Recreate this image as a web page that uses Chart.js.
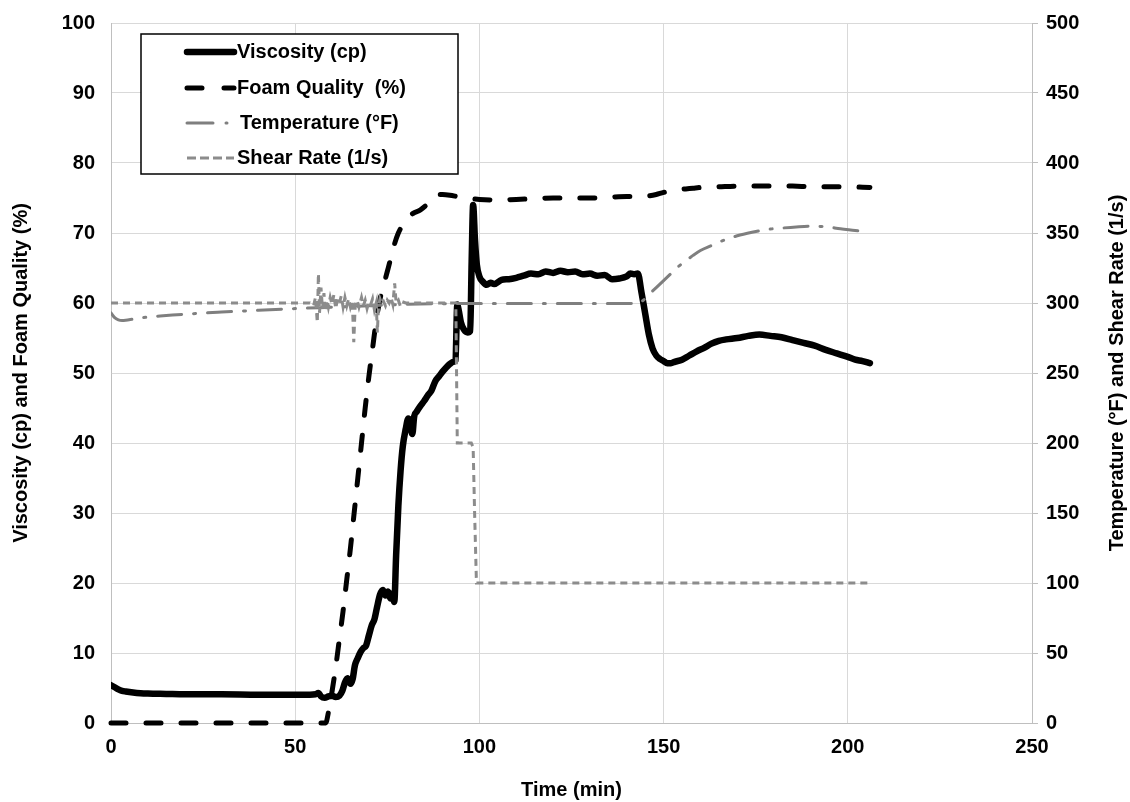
<!DOCTYPE html>
<html>
<head>
<meta charset="utf-8">
<script src="https://cdn.jsdelivr.net/npm/chart.js@4.4.1/dist/chart.umd.min.js"></script>
<style>
  html, body { margin: 0; padding: 0; background: #ffffff; }
  canvas { display: block; }
</style>
</head>
<body>
<canvas id="chart" width="1130" height="802"></canvas>
<script>
// Time axis (min) and axis ticks
const timeTicks = [0, 50, 100, 150, 200, 250];
const leftTicks = [0, 10, 20, 30, 40, 50, 60, 70, 80, 90, 100];
const rightTicks = [0, 50, 100, 150, 200, 250, 300, 350, 400, 450, 500];

// Axis titles
const leftTitle = 'Viscosity (cp) and Foam Quality (%)';
const rightTitle = 'Temperature (°F) and Shear Rate (1/s)';

// Viscosity (cp)
const viscTime = [0,1,2,3,4,6,8,10,15,20,
  30,40,50,54,55.5,56.3,57,58,59,60,
  61,62,62.8,63.5,64.2,65,65.6,66.2,67,67.8,
  68.5,69.2,70,70.8,71.5,72.2,73,73.8,74.5,75.2,
  75.8,76.4,76.9,77.4,78,78.6,79.2,80,80.7,81.3,
  81.8,82.3,83,84,85,86,87,88,89,90,
  91,92,93,93.5,94,94.3,95,95.8,96.8,97.5,
  97.9,98.3,98.8,99.3,100,101,102,103,104,106,
  108,110,112,114,116,118,120,122,124,126,
  128,130,132,134,136,138,140,141,142,143,
  144,145,146,147,148,149,150,151,152,153,
  155,157,159,161,163,165,167,170,173,176,
  179,182,185,188,191,194,197,200,202,204,
  206];
const viscosity = [5.4,5.1,4.8,4.6,4.5,4.35,4.25,4.2,4.15,4.1,
  4.1,4.05,4.05,4.05,4.1,4.3,3.8,3.6,3.8,3.9,
  3.7,3.9,4.6,5.8,6.4,5.6,6.3,8.2,9.3,10.2,
  10.7,11.0,12.5,14.0,14.8,16.5,18.3,19.0,18.2,18.8,
  17.8,18.5,17.3,24,31,36,39.5,42,43.5,42.3,
  41.3,43.8,44.5,45.3,46,46.8,47.5,48.8,49.5,50.2,
  50.8,51.3,51.6,51.8,59.8,59.2,57.2,56.2,55.8,56,
  66,74,69,65.5,63.8,63,62.6,62.9,62.7,63.3,
  63.4,63.6,63.9,64.2,64.1,64.5,64.3,64.6,64.4,64.5,
  64.1,64.2,63.9,64.0,63.4,63.5,63.8,64.2,64.1,64.2,
  61.5,58.5,55.5,53.5,52.5,52.0,51.7,51.4,51.4,51.6,
  51.9,52.5,53.1,53.6,54.2,54.6,54.8,55.0,55.3,55.5,
  55.3,55.1,54.7,54.3,53.9,53.3,52.8,52.3,51.9,51.7,
  51.4];

// Foam quality (%)
const foamTime = [0,10,20,30,40,50,57,58.3,59,60,
  61,62,63,64,65,66,67,68,69,70,
  71,72,73,74,75,76,77,78,79,80,
  82,84,86,87.5,89,90,92,94,96,98,
  100,105,110,115,120,125,130,135,140,143,
  146,148,150,152,154,156,158,160,165,170,
  175,180,185,190,195,200,206];
const foamQuality = [0,0,0,0,0,0,0,0,1.5,4.5,
  8,12,16,20.5,25,30,35,40,45,49.5,
  53.5,57.5,60.5,62.5,64.5,66.5,68.5,70,71,71.8,
  72.8,73.3,74.2,75.2,75.5,75.5,75.4,75.2,75,74.9,
  74.8,74.7,74.8,74.9,75.0,75.0,75.0,75.1,75.2,75.2,
  75.3,75.5,75.8,76.0,76.2,76.3,76.4,76.5,76.6,76.7,
  76.7,76.7,76.7,76.6,76.6,76.6,76.5];

// Temperature (°F)
const tempTime = [0,1,2,3,4,6,10,15,20,30,
  40,50,60,70,80,90,95,100,110,120,
  130,140,143,144.5,146,148,150,152,154,156,
  158,160,163,166,170,174,178,182,186,190,
  194,198,202,205];
const temperature = [293,289.5,288,287.5,287.7,288.5,290,291,292,293.5,
  294.8,296,297,298,299,299.5,299.6,299.6,299.6,299.6,
  299.6,299.6,299.8,302,306,311,316,321,326,330,
  334,337.5,341,344.5,348,350.5,352.5,353.5,354.3,354.8,
  354.5,353,351.8,350.8];

// Shear rate (1/s)
const shearTime = [0,10,20,30,40,50,54,55,55.5,56,
  56.3,56.6,57,57.4,57.8,58.2,58.6,59,59.5,60,
  60.5,61,61.5,62,62.5,63,63.5,64,64.5,65,
  65.5,65.9,66.3,66.8,67.3,68,68.5,69,69.5,70,
  70.5,71,71.5,72,72.3,72.6,73,73.5,74,74.5,
  75,75.5,76,76.5,77,77.4,78,78.5,79,80,
  82,85,88,91,93,93.6,94,95,96,97,
  97.8,98.3,98.7,99.2,100,105,110,115,120,125,
  130,135,140,145,150,155,160,165,170,175,
  180,185,190,195,200,206];
const shearRate = [300,300,300,300,300,300,300,298,304,286,
  321,293,311,296,307,294,302,297,304,299,
  306,296,303,300,305,297,304,298,303,297,
  301,272,299,302,297,304,298,302,296,301,
  299,303,295,300,279,297,303,299,301,298,
  302,300,304,299,314,300,302,298,301,300,
  300,300,300,300,300,300,200,200,200,200,
  200,197,150,100,100,100,100,100,100,100,
  100,100,100,100,100,100,100,100,100,100,
  100,100,100,100,100,100];

const toPoints = (xs, ys) => xs.map((x, i) => ({ x: x, y: ys[i] }));

const FONT = '"Liberation Sans", Arial, Helvetica, sans-serif';
const GRID = '#d9d9d9';
const AXIS = '#bfbfbf';

// Vertical axis titles, both reading bottom to top
const axisTitles = {
  id: 'axisTitles',
  afterDraw(chart) {
    const ctx = chart.ctx;
    const area = chart.chartArea;
    const midY = (area.top + area.bottom) / 2;
    ctx.save();
    ctx.fillStyle = '#000000';
    ctx.font = 'bold 20px ' + FONT;
    ctx.textAlign = 'center';
    ctx.textBaseline = 'middle';
    [[21, leftTitle], [1117, rightTitle]].forEach(([x, text]) => {
      ctx.save();
      ctx.translate(x, midY);
      ctx.rotate(-Math.PI / 2);
      ctx.fillText(text, 0, 0);
      ctx.restore();
    });
    ctx.restore();
  }
};

// Legend drawn inside the plot, upper left
const insetLegend = {
  id: 'insetLegend',
  afterDraw(chart) {
    const ctx = chart.ctx;
    const box = { x: 141, y: 34, w: 317, h: 140 };
    ctx.save();
    ctx.fillStyle = '#ffffff';
    ctx.fillRect(box.x, box.y, box.w, box.h);
    ctx.lineWidth = 1.5;
    ctx.strokeStyle = '#000000';
    ctx.strokeRect(box.x, box.y, box.w, box.h);
    const samples = [
      { dash: [], cap: 'round' },
      { dash: [15, 22], cap: 'round' },
      { dash: [26, 13, 1, 30], cap: 'round' },
      { dash: [9, 4], cap: 'butt' }
    ];
    const rowY = [52, 88, 123, 158];
    chart.data.datasets.forEach((ds, i) => {
      const y = rowY[i];
      ctx.beginPath();
      ctx.setLineDash(samples[i].dash);
      ctx.lineCap = samples[i].cap;
      ctx.lineWidth = ds.borderWidth;
      ctx.strokeStyle = ds.borderColor;
      ctx.moveTo(187, y);
      ctx.lineTo(234, y);
      ctx.stroke();
      ctx.setLineDash([]);
      ctx.fillStyle = '#000000';
      ctx.font = 'bold 20px ' + FONT;
      ctx.textBaseline = 'middle';
      ctx.textAlign = 'left';
      ctx.fillText(ds.label, i === 2 ? 240 : 237, y);
    });
    ctx.restore();
  }
};

// Vertical scales: fixed width, no extra room reserved for end labels
const fitVertical = width => s => {
  s.width = width;
  s.paddingTop = 0;
  s.paddingBottom = 0;
};

new Chart(document.getElementById('chart'), {
  type: 'line',
  data: {
    datasets: [
      {
        label: 'Viscosity (cp)',
        data: toPoints(viscTime, viscosity),
        yAxisID: 'y',
        borderColor: '#000000',
        borderWidth: 6.5,
        borderCapStyle: 'round',
        borderJoinStyle: 'round',
        cubicInterpolationMode: 'monotone',
        pointRadius: 0,
        order: 4
      },
      {
        label: 'Foam Quality  (%)',
        data: toPoints(foamTime, foamQuality),
        yAxisID: 'y',
        borderColor: '#000000',
        borderWidth: 5,
        borderDash: [15, 20],
        borderCapStyle: 'round',
        cubicInterpolationMode: 'monotone',
        pointRadius: 0,
        clip: false,
        order: 3
      },
      {
        label: 'Temperature (°F)',
        data: toPoints(tempTime, temperature),
        yAxisID: 'y2',
        borderColor: '#7f7f7f',
        borderWidth: 3,
        borderDash: [24, 12, 2, 12],
        borderCapStyle: 'round',
        cubicInterpolationMode: 'monotone',
        pointRadius: 0,
        order: 2
      },
      {
        label: 'Shear Rate (1/s)',
        data: toPoints(shearTime, shearRate),
        yAxisID: 'y2',
        borderColor: '#8c8c8c',
        borderWidth: 3,
        borderDash: [7, 5],
        tension: 0,
        pointRadius: 0,
        order: 1
      }
    ]
  },
  options: {
    responsive: false,
    animation: false,
    events: [],
    layout: { padding: { top: 23, right: 0, bottom: 0, left: 0 } },
    plugins: { legend: { display: false }, tooltip: { enabled: false } },
    scales: {
      x: {
        type: 'linear',
        min: 0, max: 250,
        afterBuildTicks: s => { s.ticks = timeTicks.map(v => ({ value: v })); },
        afterFit: s => { s.height = 79; s.paddingLeft = 0; s.paddingRight = 0; },
        grid: { color: GRID, lineWidth: 1, drawTicks: false },
        border: { color: AXIS, width: 1 },
        ticks: { color: '#000', padding: 12, maxRotation: 0, font: { family: FONT, size: 20, weight: 'bold' } },
        title: {
          display: true, text: 'Time (min)', color: '#000',
          font: { family: FONT, size: 20, weight: 'bold' }, padding: { top: 0, bottom: 0 }
        }
      },
      y: {
        position: 'left',
        min: 0, max: 100,
        afterBuildTicks: s => { s.ticks = leftTicks.map(v => ({ value: v })); },
        afterFit: fitVertical(111),
        grid: { color: GRID, lineWidth: 1, drawTicks: false },
        border: { color: AXIS, width: 1 },
        ticks: { color: '#000', padding: 16, font: { family: FONT, size: 20, weight: 'bold' } }
      },
      y2: {
        position: 'right',
        min: 0, max: 500,
        afterBuildTicks: s => { s.ticks = rightTicks.map(v => ({ value: v })); },
        afterFit: fitVertical(98),
        grid: { drawOnChartArea: false, color: AXIS, tickLength: 6 },
        border: { color: AXIS, width: 1 },
        ticks: { color: '#000', padding: 8, font: { family: FONT, size: 20, weight: 'bold' } }
      }
    }
  },
  plugins: [axisTitles, insetLegend]
});
</script>
</body>
</html>
